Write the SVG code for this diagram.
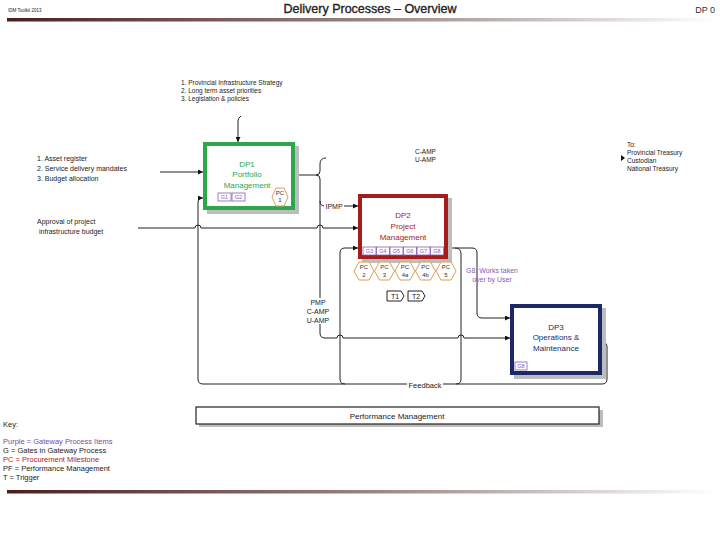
<svg xmlns="http://www.w3.org/2000/svg" width="720" height="540" viewBox="0 0 720 540">
<defs>
<linearGradient id="bar" x1="0" y1="0" x2="1" y2="0">
<stop offset="0" stop-color="#4a1e1e"/>
<stop offset="0.5" stop-color="#9a8080"/>
<stop offset="1" stop-color="#ffffff"/>
</linearGradient>
<marker id="arr" viewBox="0 0 6 6" refX="6" refY="3" markerWidth="5" markerHeight="5" orient="auto" markerUnits="userSpaceOnUse">
<path d="M0,0 L6,3 L0,6 z" fill="#111"/>
</marker>
<style>
text{font-family:"Liberation Sans",Arial,sans-serif;fill:#222}
.t{font-size:6.5px}
.t7{font-size:7px}
.k{font-size:7.5px}
.c{text-anchor:middle}
.conn path{fill:none;stroke:#222;stroke-width:1}
.shadow{fill:#bdbdbd}
.g rect{fill:#fff;stroke:#8a5ab0;stroke-width:0.8}
.g text{fill:#8a5ab0;font-size:5.5px;text-anchor:middle}
.hex polygon{fill:#fff;stroke:#d9a050;stroke-width:1}
.hex text{font-size:6px;text-anchor:middle;fill:#333}
.tag path{fill:#fff;stroke:#222;stroke-width:1}
.tag text{font-size:7px;text-anchor:middle}
.lbl{fill:#fff}
.dp{font-size:8px;text-anchor:middle}
</style>
</defs>
<rect width="720" height="540" fill="#fff"/>

<!-- header -->
<g id="header">
<text x="8" y="12" style="font-size:4.5px">IDM Toolkit 2013</text>
<text x="370" y="13" class="c" style="font-size:12.5px;fill:#222;stroke:#222;stroke-width:0.35">Delivery Processes – Overview</text>
<text x="715" y="13" style="font-size:9px;text-anchor:end;fill:#333">DP 0</text>
<rect x="7" y="18" width="710" height="3.5" fill="url(#bar)"/>
<rect x="7" y="490" width="710" height="3.5" fill="url(#bar)"/>
</g>

<!-- input texts -->
<g id="inputs-top">
<text class="t" x="181" y="85">1. Provincial Infrastructure Strategy</text>
<text class="t" x="181" y="93">2. Long term asset priorities</text>
<text class="t" x="181" y="101">3. Legislation &amp; policies</text>
</g>
<g id="inputs-left">
<text class="t7" x="37" y="161">1. Asset register</text>
<text class="t7" x="37" y="171">2. Service delivery mandates</text>
<text class="t7" x="37" y="181">3. Budget allocation</text>
<text class="t7" x="37" y="224">Approval of project</text>
<text class="t7" x="39" y="234">infrastructure budget</text>
</g>
<g id="outputs-to">
<text class="t" x="627" y="147">To:</text>
<text class="t" x="627" y="155">Provincial Treasury</text>
<text class="t" x="627" y="163">Custodian</text>
<text class="t" x="627" y="171">National Treasury</text>
<polygon points="621,155 625,158 621,161" fill="#111"/>
</g>
<g id="camp">
<text class="t" x="415" y="154">C-AMP</text>
<text class="t" x="415" y="162">U-AMP</text>
</g>

<!-- connectors -->
<g id="connectors" class="conn">
<path d="M241,116 Q238,118 238,121 L238,142" marker-end="url(#arr)"/>
<path d="M160,172 L203,172" marker-end="url(#arr)"/>
<path d="M138,228 L195,228 A3,3 0 0 1 201,228 L317,228 A3,3 0 0 1 323,228 L358,228" marker-end="url(#arr)"/>
<path d="M600,342 L602,342 Q607,342 607,347 L607,379 Q607,384 602,384 L203,384 Q198,384 198,379 L198,203 Q198,198 202,198 L203,198" marker-end="url(#arr)"/>
<path d="M295,175 L316,175"/>
<path d="M326,158 Q320,158 320,164 L320,171 Q320,175 316,175 Q320,175 320,179 L320,333 Q320,338 325,338 L337,338 A3,3 0 0 1 343,338 L458,338 A3,3 0 0 1 464,338 L510,338" marker-end="url(#arr)"/>
<path d="M320,201 Q320,206 325,206 L358,206" marker-end="url(#arr)"/>
<path d="M448,248 L472,248 Q477,248 477,253 L477,313 Q477,318 482,318 L510,318" marker-end="url(#arr)"/>
<path d="M455,248 Q461,248 461,254 L461,379 Q461,384 456,384"/>
<path d="M345,384 Q340,384 340,379 L340,253 Q340,248 345,248 L358,248" marker-end="url(#arr)"/>
</g>

<!-- connector labels -->
<g id="connector-labels">
<rect class="lbl" x="324" y="202" width="20" height="8"/>
<text class="t7 c" x="334" y="208.5">IPMP</text>
<rect class="lbl" x="305" y="298" width="27" height="26"/>
<text class="t7 c" x="318" y="305">PMP</text>
<text class="t7 c" x="318" y="314">C-AMP</text>
<text class="t7 c" x="318" y="323">U-AMP</text>
<rect class="lbl" x="407" y="380" width="36" height="8"/>
<text class="k c" x="425" y="387.5">Feedback</text>
</g>

<!-- DP1 -->
<g id="dp1">
<rect class="shadow" x="207" y="146" width="92" height="68"/>
<rect x="205" y="144" width="88" height="64" fill="#fff" stroke="#2aa84a" stroke-width="4"/>
<text x="247" y="167" class="dp" style="fill:#2aa84a">DP1</text>
<text x="247" y="177" class="dp" style="fill:#2aa84a">Portfolio</text>
<text x="247" y="188" class="dp" style="fill:#2aa84a">Management</text>
<g class="g">
<rect x="218" y="193" width="13" height="8"/><text x="224.5" y="199">G1</text>
<rect x="232" y="193" width="13" height="8"/><text x="238.5" y="199">G2</text>
</g>
<g class="hex">
<polygon points="272,197 276,188 284,188 288,197 284,206 276,206"/>
<text x="280" y="195">PC</text><text x="280" y="202">1</text>
</g>
</g>

<!-- DP2 -->
<g id="dp2">
<rect class="shadow" x="362" y="198" width="90" height="65"/>
<rect x="360" y="196" width="86" height="61" fill="#fff" stroke="#a51c1c" stroke-width="4"/>
<text x="403" y="218" class="dp" style="fill:#a51c1c">DP2</text>
<text x="403" y="229" class="dp" style="fill:#a51c1c">Project</text>
<text x="403" y="240" class="dp" style="fill:#a51c1c">Management</text>
<g class="g">
<rect x="363" y="247" width="13" height="8"/><text x="369.5" y="253">G3</text>
<rect x="376.5" y="247" width="13" height="8"/><text x="383" y="253">G4</text>
<rect x="390" y="247" width="13" height="8"/><text x="396.5" y="253">G5</text>
<rect x="403.5" y="247" width="13" height="8"/><text x="410" y="253">G6</text>
<rect x="417" y="247" width="13" height="8"/><text x="423.5" y="253">G7</text>
<rect x="430.5" y="247" width="13" height="8"/><text x="437" y="253">G8</text>
</g>
</g>

<!-- PC hexagons -->
<g id="pcs" class="hex">
<g id="pc2"><polygon points="354,271 359,262 369,262 374,271 369,280 359,280"/><text x="364" y="269">PC</text><text x="364" y="277">2</text></g>
<g id="pc3"><polygon points="374.5,271 379.5,262 389.5,262 394.5,271 389.5,280 379.5,280"/><text x="384.5" y="269">PC</text><text x="384.5" y="277">3</text></g>
<g id="pc4a"><polygon points="395,271 400,262 410,262 415,271 410,280 400,280"/><text x="405" y="269">PC</text><text x="405" y="277">4a</text></g>
<g id="pc4b"><polygon points="415.5,271 420.5,262 430.5,262 435.5,271 430.5,280 420.5,280"/><text x="425.5" y="269">PC</text><text x="425.5" y="277">4b</text></g>
<g id="pc5"><polygon points="436,271 441,262 451,262 456,271 451,280 441,280"/><text x="446" y="269">PC</text><text x="446" y="277">5</text></g>
</g>

<g id="g8note">
<text class="t7 c" x="492" y="273" style="fill:#8a5ab0">G8: Works taken</text>
<text class="t7 c" x="492" y="282" style="fill:#8a5ab0">over by User</text>
</g>

<!-- triggers -->
<g id="triggers" class="tag">
<g id="t1"><path d="M387,291 L401,291 L404,296 L401,301 L387,301 z"/><text x="395" y="299">T1</text></g>
<g id="t2"><path d="M408,291 L422,291 L425,296 L422,301 L408,301 z"/><text x="416" y="299">T2</text></g>
</g>

<!-- DP3 -->
<g id="dp3">
<rect class="shadow" x="514" y="308" width="92" height="71"/>
<rect x="512" y="306" width="88" height="67" fill="#fff" stroke="#1b2a66" stroke-width="4"/>
<text x="556" y="330" class="dp" style="fill:#1b2a66">DP3</text>
<text x="556" y="340" class="dp" style="fill:#1b2a66">Operations &amp;</text>
<text x="556" y="351" class="dp" style="fill:#1b2a66">Maintenance</text>
<g class="g">
<rect x="515" y="362" width="12" height="8"/><text x="521" y="368">G8</text>
</g>
</g>

<!-- Performance management -->
<g id="perf">
<rect class="shadow" x="199" y="410" width="404" height="17"/>
<rect x="196" y="407" width="403" height="17" fill="#fff" stroke="#222" stroke-width="1.2"/>
<text class="c" x="397" y="418.5" style="font-size:8px">Performance Management</text>
</g>

<!-- key -->
<g id="key">
<text class="k" x="3" y="427">Key:</text>
<text class="k" x="3" y="444" style="fill:#7a4aa8">Purple = Gateway Process Items</text>
<text class="k" x="3" y="453">G = Gates in Gateway Process</text>
<text class="k" x="3" y="462" style="fill:#b02020">PC = Procurement Milestone</text>
<text class="k" x="3" y="471">PF = Performance Management</text>
<text class="k" x="3" y="480">T = Trigger</text>
</g>
</svg>
